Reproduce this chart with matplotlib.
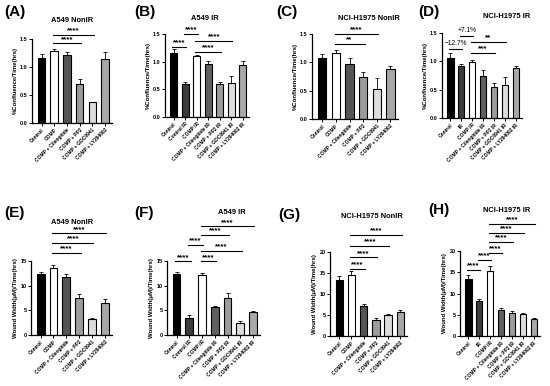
import matplotlib
matplotlib.use("Agg")
import matplotlib.pyplot as plt

plt.rcParams['font.family'] = ['Liberation Sans', 'DejaVu Sans']

W, H = 550, 386

# ---- data ----
lab_a = ["Control", "COMP", "COMP + Cilengitide", "COMP + PP2", "COMP + GDC0941", "COMP + LY294002"]
lab_b = ["Control", "Control IR", "COMP IR", "COMP + Cilengitide IR", "COMP + PP2 IR",
         "COMP + GDC0941 IR", "COMP + LY294002 IR"]
lab_d = ["Control", "IR", "COMP IR", "COMP + Cilengitide IR", "COMP + PP2 IR",
         "COMP + GDC0941 IR", "COMP + LY294002 IR"]

val_a = [1.16, 1.29, 1.21, 0.70, 0.37, 1.14]
err_a = [0.07, 0.04, 0.05, 0.08, 0.01, 0.12]
val_b = [1.16, 0.60, 1.10, 0.96, 0.59, 0.62, 0.94]
err_b = [0.07, 0.04, 0.02, 0.06, 0.05, 0.13, 0.07]
val_c = [1.07, 1.16, 0.97, 0.74, 0.53, 0.89]
err_c = [0.07, 0.06, 0.10, 0.09, 0.20, 0.05]
val_d = [1.06, 0.92, 0.99, 0.75, 0.54, 0.58, 0.89]
err_d = [0.08, 0.04, 0.04, 0.10, 0.07, 0.15, 0.02]
val_e = [12.3, 13.5, 11.8, 7.4, 3.2, 6.5]
err_e = [0.5, 0.6, 0.6, 0.9, 0.15, 0.7]
val_f = [12.3, 3.4, 12.1, 5.6, 7.4, 2.5, 4.6]
err_f = [0.4, 0.6, 0.4, 0.2, 1.1, 0.4, 0.3]
val_g = [13.4, 14.5, 7.2, 3.9, 5.0, 5.6]
err_g = [0.9, 0.9, 0.4, 0.4, 0.2, 0.6]
val_h = [13.4, 8.2, 15.2, 6.1, 5.5, 5.1, 4.0]
err_h = [0.9, 0.4, 1.2, 0.4, 0.5, 0.4, 0.2]

# brackets: (i, j, height, text)
sig_a = [(1, 3, 1.42, "****"), (1, 4, 1.57, "****")]
sig_b = [(0, 1, 1.27, "****"), (1, 2, 1.50, "****"), (2, 4, 1.18, "****"), (2, 5, 1.37, "****")]
sig_c = [(1, 3, 1.32, "**"), (1, 4, 1.50, "****")]
sig_d = [(0, 1, 1.22, "\u221212.7%"), (1, 2, 1.45, "+7.1%"), (2, 4, 1.15, "***"), (2, 5, 1.34, "**")]
sig_e = [(1, 3, 16.7, "****"), (1, 4, 18.6, "****"), (1, 5, 20.6, "****")]
sig_f = [(0, 1, 14.9, "****"), (2, 3, 14.9, "****"), (1, 2, 18.3, "****"),
         (2, 5, 17.0, "****"), (2, 4, 20.3, "****"), (2, 6, 22.0, "****")]
sig_g = [(1, 2, 16.0, "****"), (1, 3, 18.7, "****"), (1, 4, 21.5, "****"), (1, 5, 24.0, "****")]
sig_h = [(0, 1, 15.5, "****"), (1, 2, 17.9, "****"), (2, 3, 19.6, "****"),
         (2, 4, 22.2, "****"), (2, 5, 24.2, "****"), (2, 6, 26.3, "****")]

col6 = ["#000000", "#ffffff", "#555555", "#9c9c9c", "#dddddd", "#a8a8a8"]
col7 = ["#000000", "#3c3c3c", "#ffffff", "#606060", "#9c9c9c", "#dddddd", "#a8a8a8"]

conf_lab = "%Confluence/Time(hrs)"
wound_lab = "Wound Width(\u03bcM)/Time(hrs)"

fig = plt.figure(figsize=(W / 100, H / 100), dpi=100)


def panel(rect, letter, lpos, title, tpos, labels, vals, errs, cols, sigs,
          ymax, yticks, ylab):
    left, right, y0, ytop = rect
    ax = fig.add_axes([left / W, 1 - y0 / H, (right - left) / W, (y0 - ytop) / H])
    n = len(vals)
    x = list(range(n))
    ax.bar(x, vals, width=0.6, color=cols, edgecolor="black", linewidth=0.8, zorder=2)
    ax.errorbar(x, vals, yerr=[[0] * n, errs], fmt="none", ecolor="black",
                elinewidth=0.6, capsize=1.6, capthick=0.6, zorder=3)
    ax.set_xlim(-0.75, n - 0.45)
    ax.set_ylim(0, ymax)
    ax.set_yticks(yticks)
    if ymax < 5:
        ax.set_yticklabels(["%.1f" % t for t in yticks])
    ax.set_xticks(x)
    ax.set_xticklabels(labels, rotation=45, ha="right", rotation_mode="anchor",
                       fontsize=3.5, fontweight="bold")
    ax.tick_params(axis="both", length=2, width=0.7, pad=1.2)
    ax.tick_params(axis="y", labelsize=4.0)
    for t in ax.get_yticklabels():
        t.set_fontweight("bold")
    for s in ["top", "right"]:
        ax.spines[s].set_visible(False)
    for s in ["left", "bottom"]:
        ax.spines[s].set_linewidth(0.9)
    ax.set_ylabel(ylab, fontsize=4.3, fontweight="bold", labelpad=1.5)
    for i, j, h, txt in sigs:
        ax.plot([i - 0.1, j + 0.1], [h, h], color="black", lw=0.8, clip_on=False)
        star = txt.startswith("*")
        ax.annotate(txt, ((i + j) / 2, h), xytext=(0, 0.4 if star else 1.0),
                    textcoords="offset points", ha="center", va="bottom",
                    fontsize=5.8 if star else 4.8,
                    fontweight="bold" if star else "normal", annotation_clip=False)
    fig.text(tpos[0] / W, 1 - tpos[1] / H, title, ha="center", va="center",
             fontsize=5.4, fontweight="bold")
    fig.text(lpos[0] / W, 1 - lpos[1] / H, letter, ha="left", va="center",
             fontsize=11, fontweight="bold")
    return ax


t15 = [0.0, 0.5, 1.0, 1.5]
panel((32, 112, 123, 39), "(A)", (4, 12), "A549 NonIR", (72, 21), lab_a, val_a, err_a,
      col6, sig_a, 1.5, t15, conf_lab)
panel((165, 249, 117, 34), "(B)", (134, 12), "A549 IR", (205, 19), lab_b, val_b, err_b,
      col7, sig_b, 1.5, t15, conf_lab)
panel((312, 398, 119, 34), "(C)", (276, 12), "NCI-H1975 NonIR", (369, 19), lab_a, val_c, err_c,
      col6, sig_c, 1.5, t15, conf_lab)
panel((442, 522, 118, 33), "(D)", (418, 12), "NCI-H1975 IR", (507, 17), lab_d, val_d, err_d,
      col7, sig_d, 1.5, t15, conf_lab)
panel((31, 112, 335, 261), "(E)", (4, 213), "A549 NonIR", (72, 222), lab_a, val_e, err_e,
      col6, sig_e, 15, [0, 5, 10, 15], wound_lab)
panel((167, 260, 335, 261), "(F)", (134, 213), "A549 IR", (232, 213), lab_b, val_f, err_f,
      col7, sig_f, 15, [0, 5, 10, 15], wound_lab)
panel((330, 407, 336, 252), "(G)", (278, 215), "NCI-H1975 NonIR", (372, 217), lab_a, val_g, err_g,
      col6, sig_g, 20, [0, 5, 10, 15, 20], wound_lab)
panel((460, 540, 336, 251), "(H)", (428, 210), "NCI-H1975 IR", (507, 210), lab_d, val_h, err_h,
      col7, sig_h, 20, [0, 5, 10, 15, 20], wound_lab)

fig.savefig("out.png", dpi=100)
